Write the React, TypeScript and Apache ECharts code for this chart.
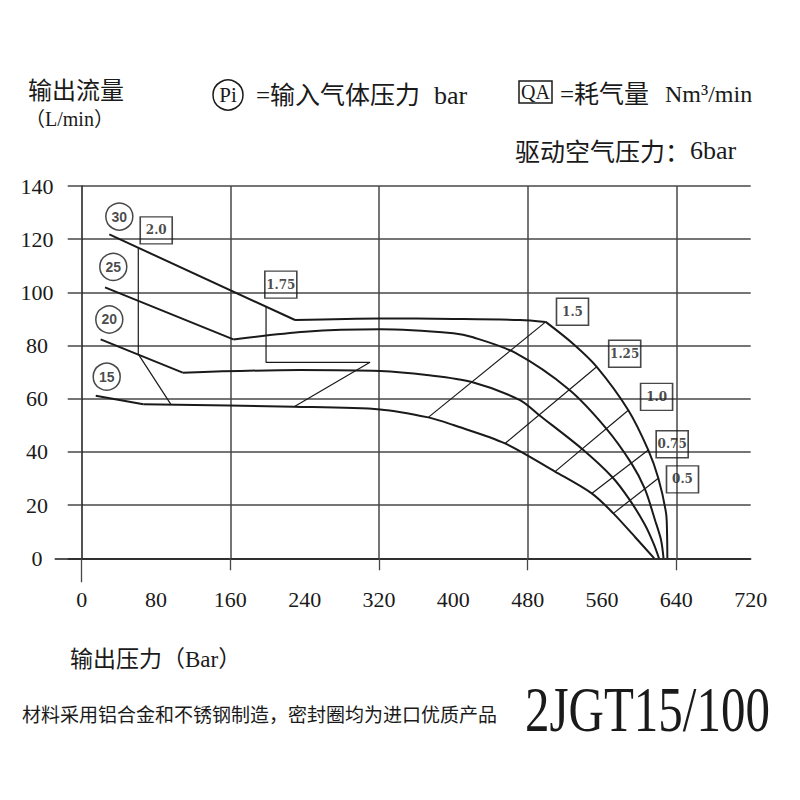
import React, { useEffect, useRef } from "react";
import * as echarts from "echarts";

// ---- data ----
const xTickValues = [0, 80, 160, 240, 320, 400, 480, 560, 640, 720];
const yTickValues = [0, 20, 40, 60, 80, 100, 120, 140];
const xStubTicks = [160, 320, 480, 640];

// output flow curves for input pressure Pi (straight part, then arc parts)
const pi30Straight = [[29.7, 121.8], [229.6, 89.6]];
const pi30Top = [[229.6, 89.6], [321.1, 90.2], [400.0, 90.0], [471.7, 89.6], [499.4, 88.9]];
const pi30Fall = [[499.4, 88.9], [529.1, 80.6], [554.3, 72.0], [588.3, 55.7], [609.8, 40.7], [620.6, 30.1], [628.9, 17.0], [630.0, 8.8], [630.3, 0]];

const pi25Straight = [[25.1, 101.9], [163.2, 82.3]];
const pi25Arc = [[163.2, 82.3], [240.3, 85.2], [321.1, 86.1], [400.0, 84.6], [421.2, 83.1], [466.3, 77.3], [524.7, 63.4], [564.6, 48.8], [591.5, 35.8], [606.1, 26.1], [617.0, 14.4], [623.5, 6.9], [626.2, 0]];

const pi20Straight = [[20.4, 82.3], [108.7, 69.8]];
const pi20Arc = [[108.7, 69.8], [235.0, 70.8], [321.1, 70.4], [371.3, 68.9], [419.8, 66.3], [471.7, 59.5], [492.1, 53.9], [538.6, 41.1], [571.4, 30.4], [590.1, 21.8], [606.3, 12.5], [615.5, 5.5], [621.3, 0]];

const pi15Straight = [[15.1, 61.1], [66.3, 57.9]];
const pi15Arc = [[66.3, 57.9], [228.5, 57.0], [321.1, 56.0], [373.0, 53.0], [400.0, 50.1], [455.6, 43.2], [509.4, 32.6], [548.9, 24.4], [572.2, 16.9], [595.5, 8.0], [616.2, 0]];

// air consumption (QA) lines
const qa20 = [[60.9, 116.7], [60.9, 76.8], [95.8, 58.0]];
const qa175 = [[198.4, 94.8], [198.4, 73.7], [310.3, 73.7], [228.6, 57.0]];
const qa15 = [[499.4, 88.9], [373.0, 53.0]];
const qa125 = [[554.3, 72.0], [455.6, 43.2]];
const qa10 = [[588.3, 55.7], [509.4, 32.6]];
const qa075 = [[609.8, 40.7], [548.9, 24.4]];
const qa05 = [[620.6, 30.1], [572.2, 16.9]];

// labels
const piLabelNames = ["30", "25", "20", "15"];
const piLabelPos = [[40.5, 128.5], [34.0, 109.6], [29.7, 89.8], [26.9, 68.3]];
const qaLabelNames = ["2.0", "1.75", "1.5", "1.25", "1.0", "0.75", "0.5"];
const qaLabelPos = [[80.2, 123.3], [214.3, 102.9], [528.2, 92.7], [584.4, 76.9], [618.7, 60.7], [635.5, 42.9], [646.6, 29.7]];

const INK = "#1a1a1a";
const GRID = "#474747";
const SERIF = "'Liberation Serif', 'Noto Sans CJK SC', serif";
const CJK = "'Noto Sans CJK SC', 'Liberation Serif', sans-serif";

function curve(data: number[][], smooth: boolean) {
  return {
    type: "line",
    data,
    symbol: "none",
    smooth: smooth ? 0.3 : false,
    lineStyle: { color: INK, width: 2 },
    silent: true,
    z: 3,
    emphasis: { disabled: true },
  };
}
function qaLine(data: number[][]) {
  return {
    type: "line",
    data,
    symbol: "none",
    lineStyle: { color: INK, width: 1.2 },
    silent: true,
    z: 3,
    emphasis: { disabled: true },
  };
}

function txt(text: string, x: number, y: number, size: number, family: string, align = "left", extra: any = {}) {
  return {
    type: "text",
    x,
    y,
    silent: true,
    ...extra,
    style: {
      text,
      fontSize: size,
      fontFamily: family,
      fill: INK,
      align,
      verticalAlign: "middle",
      textAlign: align,
      textVerticalAlign: "middle",
    },
  };
}

export default function App() {
  const ref = useRef<HTMLDivElement>(null);
  useEffect(() => {
    const chart = echarts.init(ref.current!, null, { renderer: "svg" });
    const option: any = {
      animation: false,
      backgroundColor: "#ffffff",
      grid: { left: 81.7, right: 49.3, top: 186, bottom: 241.7 },
      xAxis: [
        {
          type: "value",
          min: xTickValues[0],
          max: xTickValues[xTickValues.length - 1],
          interval: xTickValues[1] - xTickValues[0],
          axisLine: { show: true, onZero: false, lineStyle: { color: INK, width: 1.5 } },
          axisTick: { show: true, customValues: xStubTicks, length: 12, lineStyle: { color: GRID, width: 1.3 } },
          axisLabel: { fontFamily: SERIF, fontSize: 22, color: INK, margin: 30 },
          splitLine: { show: true, lineStyle: { color: GRID, width: 1.5 } },
        },
        {
          type: "value",
          min: xTickValues[0],
          max: xTickValues[xTickValues.length - 1],
          position: "bottom",
          axisLine: { show: false },
          axisTick: { show: true, customValues: [0], length: 24, lineStyle: { color: GRID, width: 1.3 } },
          axisLabel: { show: false },
          splitLine: { show: false },
        },
      ],
      yAxis: [
        {
          type: "value",
          min: yTickValues[0],
          max: yTickValues[yTickValues.length - 1],
          interval: yTickValues[1] - yTickValues[0],
          axisLine: { show: true, onZero: false, lineStyle: { color: INK, width: 1.5 } },
          axisTick: { show: true, length: 14, lineStyle: { color: GRID, width: 1.5 } },
          axisLabel: { fontFamily: SERIF, fontSize: 22, color: INK, margin: 44.7, align: "center" },
          splitLine: { show: true, lineStyle: { color: GRID, width: 1.5 } },
        },
        {
          type: "value",
          min: yTickValues[0],
          max: yTickValues[yTickValues.length - 1],
          position: "left",
          axisLine: { show: false },
          axisTick: { show: true, customValues: [0], length: 27, lineStyle: { color: INK, width: 1.5 } },
          axisLabel: { show: false },
          splitLine: { show: false },
        },
      ],
      series: [
        curve(pi30Straight, false),
        curve(pi30Top, true),
        curve(pi30Fall, true),
        curve(pi25Straight, false),
        curve(pi25Arc, true),
        curve(pi20Straight, false),
        curve(pi20Arc, true),
        curve(pi15Straight, false),
        curve(pi15Arc, true),
        qaLine(qa20),
        qaLine(qa175),
        qaLine(qa15),
        qaLine(qa125),
        qaLine(qa10),
        qaLine(qa075),
        qaLine(qa05),
        {
          type: "scatter",
          data: piLabelNames.map((n, i) => ({ name: n, value: piLabelPos[i] })),
          symbol: "circle",
          symbolSize: 27,
          itemStyle: { color: "rgba(0,0,0,0)", borderColor: INK, borderWidth: 1.5 },
          label: {
            show: true,
            position: "inside",
            formatter: "{b}",
            fontFamily: "'Liberation Sans', sans-serif",
            fontWeight: "bold",
            fontSize: 14,
            color: INK,
          },
          silent: true,
          z: 5,
          emphasis: { disabled: true },
        },
        {
          type: "scatter",
          data: qaLabelNames.map((n, i) => ({ name: n, value: qaLabelPos[i] })),
          symbol: "rect",
          symbolSize: [32, 27],
          itemStyle: { color: "rgba(0,0,0,0)", borderColor: INK, borderWidth: 1.5 },
          label: {
            show: true,
            position: "inside",
            formatter: "{b}",
            fontFamily: "'DejaVu Serif', serif",
            fontWeight: "bold",
            fontSize: 12,
            color: INK,
          },
          silent: true,
          z: 5,
          emphasis: { disabled: true },
        },
      ],
      graphic: [
        txt("输出流量", 28, 88, 24, CJK),
        txt("（L/min）", 25, 119, 20, SERIF),
        {
          type: "circle",
          silent: true,
          shape: { cx: 228, cy: 95, r: 15 },
          style: { fill: "none", stroke: INK, lineWidth: 1.5 },
        },
        txt("Pi", 228, 95, 21, SERIF, "center"),
        txt("=输入气体压力", 256, 95, 25, SERIF),
        txt("bar", 434, 95, 26, SERIF),
        {
          type: "rect",
          silent: true,
          shape: { x: 519, y: 81, width: 33, height: 22 },
          style: { fill: "none", stroke: INK, lineWidth: 1.5 },
        },
        txt("QA", 535.5, 92, 20, SERIF, "center"),
        txt("=耗气量", 560, 94, 25, SERIF),
        txt("Nm³/min", 665, 94, 24, SERIF),
        txt("驱动空气压力：", 515, 150, 25, CJK),
        txt("6bar", 690, 150, 26, SERIF),
        txt("输出压力（Bar）", 70, 659, 23, SERIF),
        txt("材料采用铝合金和不锈钢制造，密封圈均为进口优质产品", 22, 713, 19, CJK),
        txt("2JGT15/100", 525, 709, 49, SERIF, "left", { scaleY: 1.3 }),
      ],
    };
    chart.setOption(option);
    return () => chart.dispose();
  }, []);
  return (
    <div
      ref={ref}
      style={{ position: "fixed", left: 0, top: 0, width: 800, height: 800, background: "#fff" }}
    />
  );
}
